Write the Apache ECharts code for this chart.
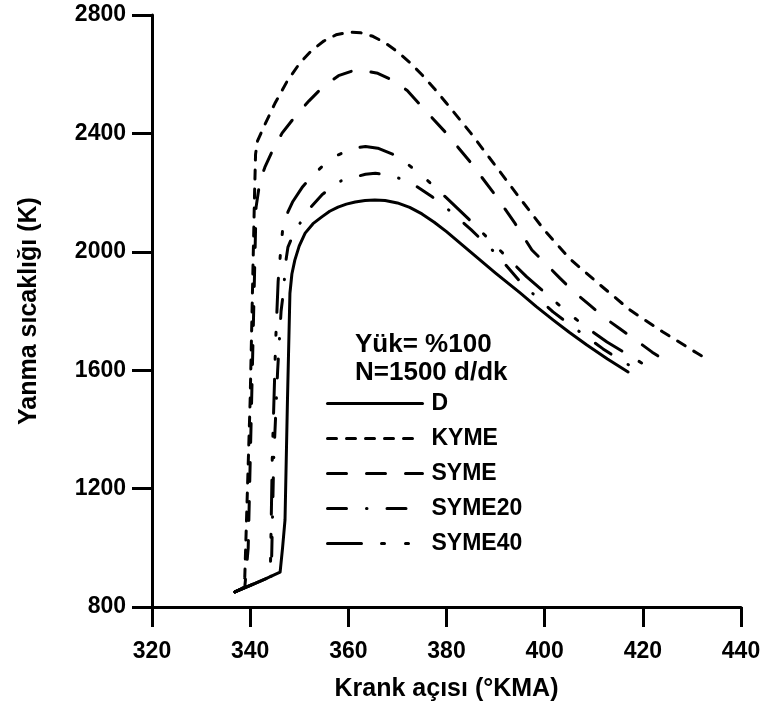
<!DOCTYPE html>
<html>
<head>
<meta charset="utf-8">
<script src="https://cdn.jsdelivr.net/npm/echarts@6/dist/echarts.min.js"></script>
<style>
  html, body { margin: 0; padding: 0; background: #fff; }
  #chart { width: 768px; height: 711px; }
</style>
</head>
<body>
<div id="chart"></div>
<script>
// Crank angle (°KMA) and combustion temperature (K) for each fuel
const seriesNames = ['D', 'KYME', 'SYME', 'SYME20', 'SYME40'];

const dAngle = [336.9, 340, 343, 346.1, 346.6, 347.1, 347.6, 348.1, 348.5, 349.1, 350, 351.2, 352.8, 354.6, 356.2, 357.9, 359.6, 361.4, 363.4, 365.4, 367.5, 370, 372.5, 375, 377.5, 380, 385, 390, 395, 398.3, 401.7, 405, 408.6, 412.8, 417];
const dTemp  = [851, 872, 894, 918, 1000, 1094, 1500, 1860, 1925, 1972, 2020, 2063, 2095, 2118, 2137, 2151, 2161, 2168, 2173, 2175, 2173, 2165, 2150, 2128, 2100, 2068, 1998, 1928, 1861, 1815, 1770, 1728, 1685, 1638, 1594];

const kymeAngle = [336.9, 338.5, 338.9, 340, 340.9, 341.1, 341.5, 343, 345, 347.5, 350, 352.5, 355, 357.5, 360, 362.5, 365, 367.5, 370, 372.5, 375, 377.5, 380, 385, 390, 395, 400, 405.2, 411.3, 417.4, 424.1, 431, 432.3];
const kymeTemp  = [851, 864, 900, 1500, 2200, 2330, 2375, 2430, 2500, 2575, 2635, 2680, 2712, 2733, 2742, 2740, 2728, 2706, 2676, 2640, 2598, 2552, 2502, 2400, 2290, 2180, 2072, 1975, 1888, 1803, 1729, 1658, 1645];

const symeAngle = [336.9, 338.9, 339.6, 340.3, 341.2, 342, 343, 344.6, 346.5, 349.1, 352, 355, 358, 361, 363, 366, 369, 372, 375, 380, 385, 390, 394, 397.4, 400.5, 403.1, 406.2, 409.2, 412.3, 415.4, 418.8, 421.9, 425.3];
const symeTemp  = [851, 866, 1000, 1500, 2150, 2240, 2286, 2344, 2401, 2456, 2510, 2560, 2595, 2612, 2613, 2603, 2580, 2545, 2490, 2400, 2300, 2190, 2095, 2006, 1955, 1911, 1861, 1820, 1776, 1739, 1699, 1661, 1624];

const syme20Angle = [336.9, 344.3, 344.8, 345.6, 346.3, 346.9, 347.1, 347.7, 348.7, 349.7, 351.8, 354.6, 356.5, 358, 360, 361.4, 363.5, 365.5, 368, 371, 374, 377, 380, 385, 390, 395.6, 398.6, 401.7, 405.2, 408.6, 411.9, 415.4, 419];
const syme20Temp  = [851, 904, 1300, 1600, 1800, 1881, 1950, 2016, 2055, 2084, 2141, 2192, 2218, 2236, 2249, 2253, 2262, 2265, 2260, 2245, 2220, 2187, 2148, 2075, 1995, 1888, 1844, 1797, 1753, 1712, 1672, 1634, 1600];

const syme40Angle = [336.9, 344.1, 344.5, 345.2, 345.7, 346.2, 346.7, 347.7, 348.7, 350.7, 352.8, 355.6, 357.6, 359.6, 361.6, 363.5, 366, 369, 372, 375, 380, 385, 390, 396.3, 401.8, 405, 409, 412.7, 418.8, 422.5];
const syme40Temp  = [851, 902, 1300, 1700, 1900, 2000, 2090, 2135, 2170, 2220, 2259, 2303, 2325, 2340, 2351, 2356, 2350, 2330, 2297, 2258, 2182, 2103, 2020, 1916, 1837, 1790, 1739, 1695, 1634, 1597];

const xTicks = { min: 320, max: 440, step: 20 };
const yTicks = { min: 800, max: 2800, step: 400 };

const headerLines = ['Yük= %100', 'N=1500 d/dk'];

const FONT = '"Liberation Sans", Arial, sans-serif';

function pairs(xs, ys) { return xs.map((x, i) => [x, ys[i]]); }

// Dash patterns per fuel (solid, short dash, long dash, dash-dot, dash-dot-dot)
const dashTypes = [
  'solid',
  [9, 10],
  [19, 20],
  [19, 20, 0.5, 20],
  [34, 20, 3, 21, 3, 20]
];

const dataSets = [
  pairs(dAngle, dTemp),
  pairs(kymeAngle, kymeTemp),
  pairs(symeAngle, symeTemp),
  pairs(syme20Angle, syme20Temp),
  pairs(syme40Angle, syme40Temp)
];

const chart = echarts.init(document.getElementById('chart'), null, { renderer: 'canvas' });

const axisCommon = {
  axisLine: { show: true, lineStyle: { color: '#000', width: 3 } },
  axisTick: { show: true, length: 20, lineStyle: { color: '#000', width: 3 } },
  splitLine: { show: false },
  axisLabel: { color: '#000', fontFamily: FONT, fontWeight: 'bold', fontSize: 23, formatter: v => String(v) },
  nameTextStyle: { color: '#000', fontFamily: FONT, fontWeight: 'bold', fontSize: 25 }
};

chart.setOption({
  animation: false,
  backgroundColor: '#fff',
  grid: { left: 152, right: 27, top: 15, bottom: 104, containLabel: false },
  xAxis: Object.assign({}, axisCommon, {
    type: 'value',
    min: xTicks.min, max: xTicks.max, interval: xTicks.step,
    name: 'Krank açısı (°KMA)',
    nameLocation: 'middle',
    nameGap: 70,
    axisLabel: Object.assign({}, axisCommon.axisLabel, { margin: 33 })
  }),
  yAxis: Object.assign({}, axisCommon, {
    type: 'value',
    min: yTicks.min, max: yTicks.max, interval: yTicks.step,
    name: 'Yanma sıcaklığı (K)',
    nameLocation: 'middle',
    nameGap: 110,
    axisLabel: Object.assign({}, axisCommon.axisLabel, { margin: 26 })
  }),
  legend: {
    orient: 'vertical',
    left: 326,
    top: 392,
    padding: 0,
    itemWidth: 95,
    itemHeight: 20,
    itemGap: 12,
    data: seriesNames,
    itemStyle: { color: 'rgba(0,0,0,0)', borderWidth: 0 },
    lineStyle: { width: 3 },
    textStyle: { color: '#000', fontFamily: FONT, fontWeight: 'bold', fontSize: 23, padding: [0, 0, 0, 4] }
  },
  graphic: headerLines.map((t, i) => ({
    type: 'text',
    left: 355,
    top: 332 + i * 28,
    style: { text: t, fill: '#000', font: 'bold 26px ' + FONT }
  })),
  series: seriesNames.map((name, i) => ({
    name: name,
    type: 'line',
    data: dataSets[i],
    symbol: 'none',
    smooth: false,
    lineStyle: { color: '#000', width: 3, type: dashTypes[i], cap: 'round', join: 'round' },
    itemStyle: { color: '#000' }
  }))
});
</script>
</body>
</html>
